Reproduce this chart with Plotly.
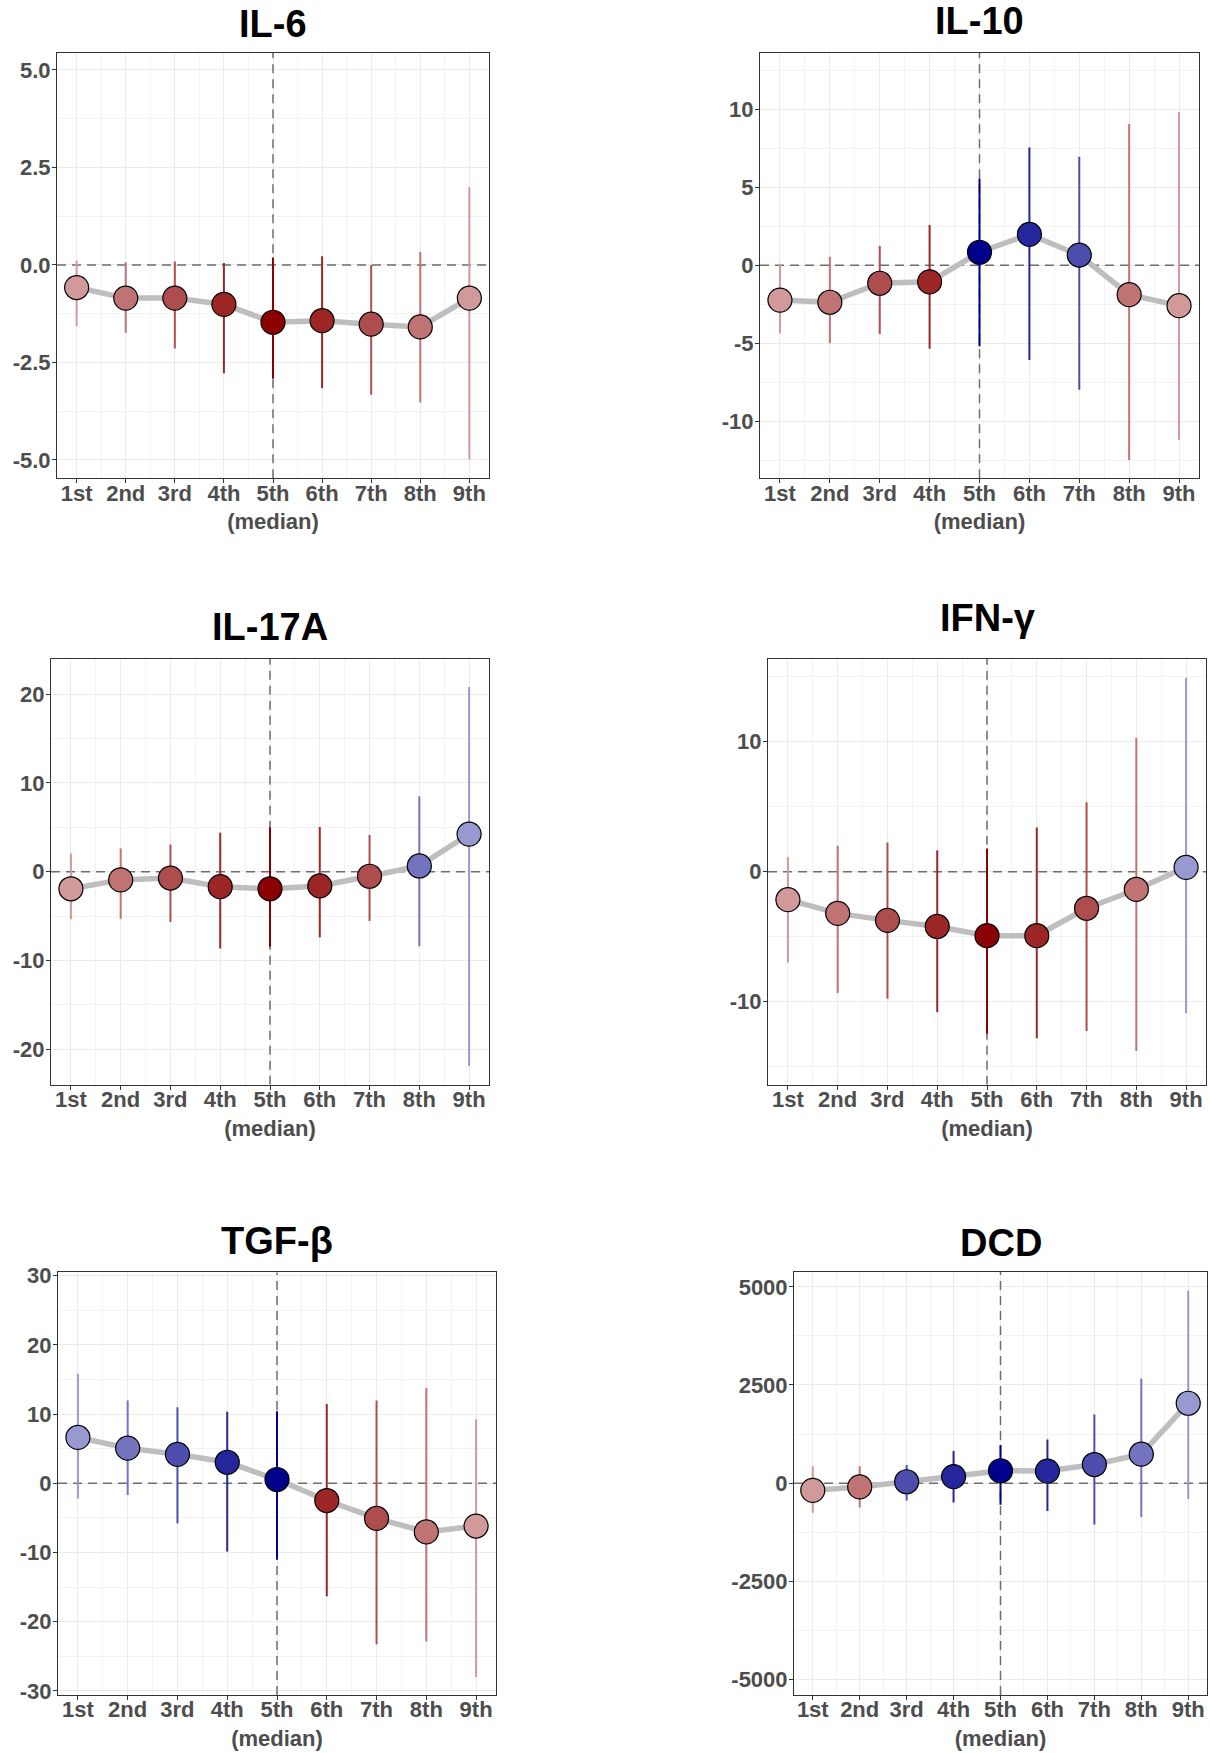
import plotly.graph_objects as go

# ---------------- data ----------------
quantiles = ["1st", "2nd", "3rd", "4th", "5th<br>(median)", "6th", "7th", "8th", "9th"]

il6_est = [-0.58, -0.85, -0.85, -1.01, -1.47, -1.43, -1.52, -1.59, -0.85]
il6_lo = [-1.57, -1.74, -2.14, -2.78, -2.92, -3.16, -3.33, -3.53, -4.99]
il6_hi = [0.11, 0.07, 0.09, 0.05, 0.19, 0.22, 0.0, 0.33, 2.0]

il10_est = [-2.23, -2.37, -1.15, -1.06, 0.84, 1.99, 0.66, -1.88, -2.59]
il10_lo = [-4.38, -5.0, -4.4, -5.35, -5.2, -6.08, -7.99, -12.5, -11.2]
il10_hi = [0.11, 0.55, 1.24, 2.59, 5.58, 7.57, 6.97, 9.07, 9.82]

il17_est = [-1.93, -0.93, -0.72, -1.69, -1.93, -1.61, -0.52, 0.64, 4.23]
il17_lo = [-5.35, -5.31, -5.67, -8.65, -8.45, -7.4, -5.55, -8.41, -21.9]
il17_hi = [2.05, 2.62, 3.06, 4.39, 4.99, 5.03, 4.14, 8.49, 20.8]

ifn_est = [-2.16, -3.21, -3.75, -4.22, -4.93, -4.93, -2.82, -1.37, 0.33]
ifn_lo = [-7.01, -9.34, -9.78, -10.82, -12.47, -12.82, -12.27, -13.81, -10.9]
ifn_hi = [1.12, 2.0, 2.25, 1.64, 1.78, 3.4, 5.34, 10.3, 14.93]

tgf_est = [6.63, 5.08, 4.19, 3.04, 0.55, -2.49, -5.08, -7.03, -6.18]
tgf_lo = [-2.19, -1.69, -5.78, -9.87, -11.0, -16.34, -23.27, -22.87, -28.0]
tgf_hi = [15.84, 11.96, 11.01, 10.36, 10.41, 11.46, 11.96, 13.8, 9.27]

dcd_est = [-184, -96, 35, 167, 316, 307, 474, 737, 2035]
dcd_lo = [-754, -623, -439, -491, -553, -711, -1053, -860, -404]
dcd_hi = [430, 430, 465, 816, 974, 1114, 1746, 2658, 4904]

titles = ["IL-6", "IL-10", "IL-17A", "IFN-γ", "TGF-β", "DCD"]

il6_ticks = [-5.0, -2.5, 0.0, 2.5, 5.0]
il6_ticktext = ["-5.0", "-2.5", "0.0", "2.5", "5.0"]
il10_ticks = [-10, -5, 0, 5, 10]
il17_ticks = [-20, -10, 0, 10, 20]
ifn_ticks = [-10, 0, 10]
tgf_ticks = [-30, -20, -10, 0, 10, 20, 30]
dcd_ticks = [-5000, -2500, 0, 2500, 5000]

# ---------------- layout / style ----------------
W, H = 1210, 1753
panels = [
    # (est, lo, hi, ticks, ticktext, yrange, box(l, t, r, b), title_y)
    (il6_est, il6_lo, il6_hi, il6_ticks, il6_ticktext, [-5.47, 5.44], (57, 52.7, 489, 478.3), 24),
    (il10_est, il10_lo, il10_hi, il10_ticks, None, [-13.67, 13.65], (760, 52.7, 1199, 478.3), 21),
    (il17_est, il17_lo, il17_hi, il17_ticks, None, [-24.0, 24.0], (51, 658.6, 489, 1084.7), 627),
    (ifn_est, ifn_lo, ifn_hi, ifn_ticks, None, [-16.4, 16.4], (768, 658.6, 1206, 1084.7), 618),
    (tgf_est, tgf_lo, tgf_hi, tgf_ticks, None, [-30.6, 30.5], (58, 1272.3, 496, 1695), 1241),
    (dcd_est, dcd_lo, dcd_hi, dcd_ticks, None, [-5395, 5387], (794, 1271.6, 1207, 1695), 1243),
]
XRANGE = [0.6, 9.4]
MEDIAN_X = 5

def shade(base, alpha):
    r, g, b = base
    return "rgb(%d,%d,%d)" % tuple(round(c * alpha + 255 * (1 - alpha)) for c in (r, g, b))

RED = (139, 0, 0)
BLUE = (0, 0, 139)
xs = list(range(1, 10))
FAMILY = "Liberation Sans, Arial, sans-serif"
TICKFONT = dict(family=FAMILY, size=22, color="#4D4D4D", weight="bold")
DASH = dict(color="#6E6E6E", width=1.5, dash="9px,6px")

fig = go.Figure()
annotations = []

for i, (est, lo, hi, ticks, ticktext, yr, box, ty) in enumerate(panels):
    n = i + 1
    xa = "x" if n == 1 else "x%d" % n
    ya = "y" if n == 1 else "y%d" % n
    l, t, r, b = box
    colors = [shade(RED if e < 0 else BLUE, 1 - 0.15 * abs(k - 5)) for k, e in zip(xs, est)]

    # reference lines (zero and median), drawn beneath the data
    fig.add_trace(go.Scatter(x=XRANGE, y=[0, 0], mode="lines", line=DASH,
                             xaxis=xa, yaxis=ya, showlegend=False, hoverinfo="skip"))
    fig.add_trace(go.Scatter(x=[MEDIAN_X, MEDIAN_X], y=yr, mode="lines", line=DASH,
                             xaxis=xa, yaxis=ya, showlegend=False, hoverinfo="skip"))
    # grey connecting line
    fig.add_trace(go.Scatter(x=xs, y=est, mode="lines", line=dict(color="#BEBEBE", width=5.5),
                             xaxis=xa, yaxis=ya, showlegend=False, hoverinfo="skip"))
    # error bars
    for k, l0, h0, c in zip(xs, lo, hi, colors):
        fig.add_trace(go.Scatter(x=[k, k], y=[l0, h0], mode="lines", line=dict(color=c, width=2),
                                 xaxis=xa, yaxis=ya, showlegend=False, hoverinfo="skip"))
    # points
    fig.add_trace(go.Scatter(x=xs, y=est, mode="markers",
                             marker=dict(size=24, color=colors, line=dict(color="black", width=1.2)),
                             xaxis=xa, yaxis=ya, showlegend=False))

    step = ticks[1] - ticks[0]
    yminor = [v + step / 2 for v in [ticks[0] - step] + ticks]
    axis_common = dict(showline=True, linecolor="#333333", linewidth=1, mirror=True,
                       ticks="outside", ticklen=4, tickcolor="#333333", tickwidth=1,
                       showgrid=True, gridcolor="#EBEBEB", gridwidth=1.1, zeroline=False,
                       tickfont=TICKFONT, automargin=False, tickangle=0)
    fig.update_layout(**{
        ("xaxis" if n == 1 else "xaxis%d" % n): dict(
            domain=[l / W, r / W], anchor=ya, range=XRANGE,
            tickmode="array", tickvals=xs, ticktext=quantiles, ticklabelstandoff=-9,
            minor=dict(tickvals=[k + 0.5 for k in xs[:-1]], showgrid=True,
                       gridcolor="#F3F3F3", gridwidth=0.7, ticks=""),
            **axis_common),
        ("yaxis" if n == 1 else "yaxis%d" % n): dict(
            domain=[1 - b / H, 1 - t / H], anchor=xa, range=yr,
            tickmode="array", tickvals=ticks, ticklabelstandoff=-3,
            ticktext=ticktext if ticktext else [str(v) for v in ticks],
            minor=dict(tickvals=yminor, showgrid=True, gridcolor="#F3F3F3", gridwidth=0.7, ticks=""),
            **axis_common),
    })

    annotations.append(dict(text="<b>%s</b>" % titles[i], xref="paper", yref="paper",
                            x=(l + r) / 2 / W, y=1 - ty / H, xanchor="center", yanchor="middle",
                            showarrow=False,
                            font=dict(family=FAMILY, size=38, color="black")))

fig.update_layout(width=W, height=H, margin=dict(l=0, r=0, t=0, b=0, autoexpand=False),
                  paper_bgcolor="white", plot_bgcolor="white",
                  annotations=annotations, showlegend=False)

fig.write_html("out.html", config={"displayModeBar": False},
               post_script="document.body.style.margin='0';")
